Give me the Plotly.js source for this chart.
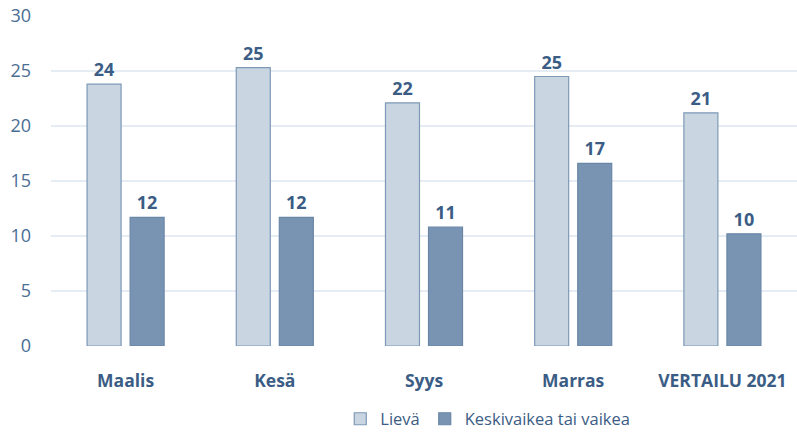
<!DOCTYPE html>
<html><head><meta charset="utf-8">
<script src="https://cdn.plot.ly/plotly-3.0.1.min.js"></script>
<style>html,body{margin:0;padding:0;background:#fff}#c{width:797px;height:432px}</style>
</head><body><div id="c"></div>
<script>
var categories = ["Maalis", "Kesä", "Syys", "Marras", "VERTAILU 2021"];
var lievaValues = [23.8, 25.3, 22.1, 24.5, 21.2];
var vaikeaValues = [11.7, 11.7, 10.8, 16.6, 10.2];
var lievaLabels = ["24", "25", "22", "25", "21"];
var vaikeaLabels = ["12", "12", "11", "17", "10"];
var yTicks = [0, 5, 10, 15, 20, 25, 30];

var labelFont = {family: "Open Sans, sans-serif", size: 18, color: "#3b5d85", weight: 700};
var traces = [
  {type: "bar", name: "Lievä", x: categories, y: lievaValues, text: lievaLabels,
   textposition: "outside", texttemplate: "<b>%{text}</b>", textfont: labelFont, cliponaxis: false,
   marker: {color: "#c9d5e1", line: {color: "#7d99b7", width: 1.2}}, hoverinfo: "none"},
  {type: "bar", name: "Keskivaikea tai vaikea", x: categories, y: vaikeaValues, text: vaikeaLabels,
   textposition: "outside", texttemplate: "<b>%{text}</b>", textfont: labelFont, cliponaxis: false,
   marker: {color: "#7994b2", line: {color: "#6a86a7", width: 1.2}}, hoverinfo: "none"}
];
var layout = {
  width: 797, height: 432,
  margin: {l: 51, r: 0, t: 16, b: 86, autoexpand: false},
  paper_bgcolor: "#fff", plot_bgcolor: "#fff",
  barmode: "group", bargap: 0.423, bargroupgap: 0.21,
  showlegend: true,
  legend: {orientation: "h", xref: "container", x: 0.612, xanchor: "center",
           yref: "container", y: 0.03, yanchor: "middle",
           font: {family: "Open Sans, sans-serif", size: 16.5, color: "#3b5d85"}, itemwidth: 30, traceorder: "normal"},
  xaxis: {showgrid: false, zeroline: false, showline: false, ticks: "", ticklabelstandoff: 22,
          tickfont: {family: "Open Sans, sans-serif", size: 17.5, color: "#3b5d85", weight: 700}},
  yaxis: {range: [0, 30], tickvals: yTicks, showgrid: true, gridcolor: "#e6ecf3", gridwidth: 2,
          zeroline: false, showline: false, ticks: "", ticklabelstandoff: 19,
          tickfont: {family: "Open Sans, sans-serif", size: 18, color: "#4a6d94"}}
};
Plotly.newPlot("c", traces, layout, {displayModeBar: false, staticPlot: true});
</script></body></html>
